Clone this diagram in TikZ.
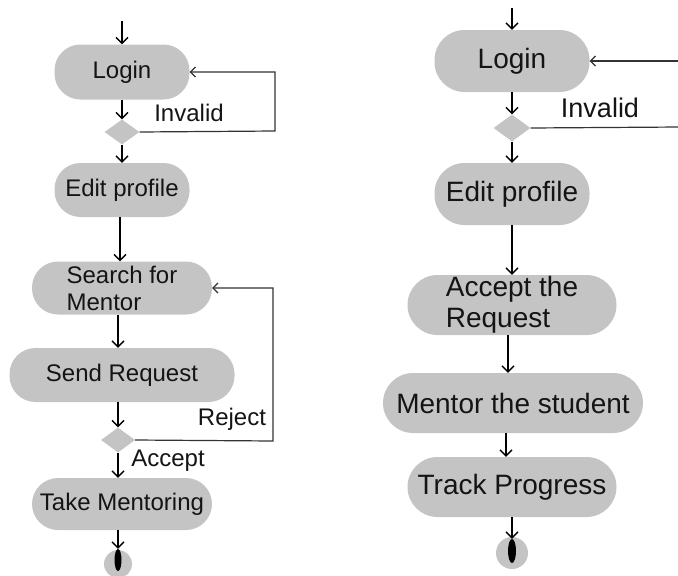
\documentclass[tikz,border=0pt]{standalone}
\usepackage{fontspec}
\setmainfont{Liberation Sans}
\usetikzlibrary{arrows.meta,shapes.geometric,calc}
\definecolor{boxgray}{RGB}{196,196,196}
\tikzset{
  act/.style={rectangle, rounded corners=26pt, fill=boxgray, inner sep=0pt, align=center, text=black!92},
  actL/.style={act, font=\fontsize{24}{27}\selectfont},
  actR/.style={act, font=\fontsize{28}{31}\selectfont, rounded corners=30pt},
  dec/.style={diamond, fill=boxgray, inner sep=0pt, aspect=1.4},
  flow/.style={draw=black, line width=1.3pt, -{Straight Barb[length=6pt,width=12pt,line width=1.3pt]}},
  back/.style={draw=black!80, line width=1.2pt, -{Straight Barb[length=5pt,width=10pt,line width=1.2pt]}},
  plain/.style={draw=black!80, line width=1.2pt},
  lblL/.style={font=\fontsize{24}{27}\selectfont, text=black!92},
  lblR/.style={font=\fontsize{27}{30}\selectfont, text=black!92},
  endc/.style={circle, fill=boxgray, inner sep=0pt},
  endb/.style={ellipse, fill=black, inner sep=0pt}
}
\begin{document}
\begin{tikzpicture}[x=1pt,y=-1pt]
\useasboundingbox (0,0) rectangle (678,576);
\clip (0,0) rectangle (678,576);
% ---------- left diagram ----------
\coordinate (startL) at (122,21);
\node[actL, minimum width=135pt, minimum height=55pt] (loginL) at (122,72) {Login};
\node[dec, minimum width=35pt, minimum height=25pt] (dL1) at (122,132) {};
\node[actL, minimum width=135pt, minimum height=54pt] (editL) at (122,190) {Edit profile};
\node[actL, minimum width=180pt, minimum height=53pt, align=left] (searchL) at (122,288) {Search for\\Mentor};
\node[actL, minimum width=225pt, minimum height=54pt] (sendL) at (122,375) {Send Request};
\node[dec, minimum width=34pt, minimum height=25pt] (dL2) at (118,440) {};
\node[actL, minimum width=180pt, minimum height=52pt] (takeL) at (122,504) {Take Mentoring};
\node[endc, minimum size=28pt] (endL) at (118,564) {};
\node[endb, minimum width=7pt, minimum height=22pt] (dotL) at (118,560) {};
\coordinate (loopL1) at (275,131);
\coordinate (loopL2) at (273,441);

\draw[flow] (startL) -- (loginL.north);
\draw[flow] (loginL.south) -- (dL1.north);
\draw[flow] (dL1.south) -- (editL.north);
\draw[flow] (editL.south -| 120,0) -- (searchL.north -| 120,0);
\draw[flow] (searchL.south -| dL2.center) -- (sendL.north -| dL2.center);
\draw[flow] (sendL.south -| dL2.center) -- (dL2.north);
\draw[flow] (dL2.south) -- (takeL.north -| dL2.center);
\draw[flow] (takeL.south -| dL2.center) -- (dotL.north);
\draw[back] (dL1.east) -- (loopL1) |- (loginL.east);
\draw[back] (dL2.east) -- (loopL2) |- (searchL.east);
\node[lblL] (invL) at (189,113) {Invalid};
\node[lblL] (rejL) at (232,419) {Reject};
\node[lblL] (accL) at (168,461) {Accept};
% ---------- right diagram ----------
\coordinate (startR) at (512,8);
\node[actR, minimum width=155pt, minimum height=62pt] (loginR) at (512,61) {Login};
\node[dec, minimum width=37pt, minimum height=27pt] (dR1) at (512,128) {};
\node[actR, minimum width=155pt, minimum height=62pt] (editR) at (512,194) {Edit profile};
\node[actR, minimum width=209pt, minimum height=60pt, align=left] (accR) at (512,305) {Accept the\\Request};
\node[actR, minimum width=260pt, minimum height=60pt] (mentR) at (513,403) {Mentor the student};
\node[actR, minimum width=209pt, minimum height=60pt] (trackR) at (512,487) {Track Progress};
\node[endc, minimum size=32pt] (endR) at (512,553) {};
\node[endb, minimum width=8pt, minimum height=24pt] (dotR) at (512,551) {};
\coordinate (loopR1) at (680,127);
\coordinate (loopR2) at (680,61);

\draw[flow] (startR) -- (loginR.north);
\draw[flow] (loginR.south) -- (dR1.north);
\draw[flow] (dR1.south) -- (editR.north);
\draw[flow] (editR.south) -- (accR.north);
\draw[flow] (accR.south -| 508,0) -- (mentR.north -| 508,0);
\draw[flow] (mentR.south -| 506,0) -- (trackR.north -| 506,0);
\draw[flow] (trackR.south) -- (dotR.north);
\draw[plain] (dR1.east) -- (loopR1);
\draw[back] (loopR2) -- (loginR.east);
\node[lblR] (invR) at (600,108) {Invalid};
\end{tikzpicture}
\end{document}
